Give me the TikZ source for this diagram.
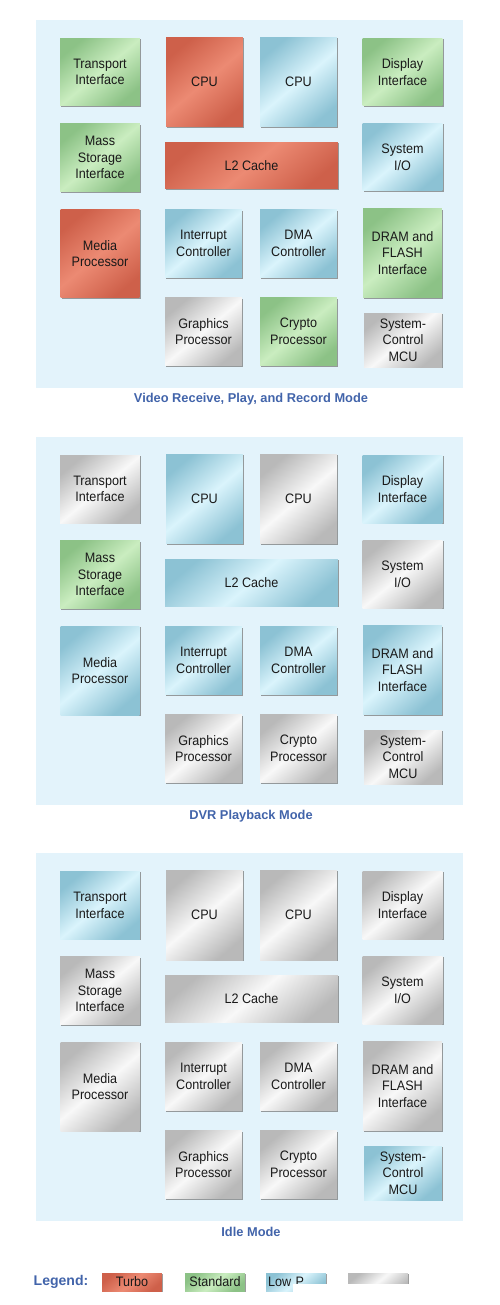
\documentclass[tikz,border=0pt]{standalone}
\usepackage{fontspec}
\setmainfont{Liberation Sans}
\newfontfamily\chipfont{Liberation Sans}[FakeStretch=0.92]
\usetikzlibrary{shadows}

\definecolor{turboD}{RGB}{206,96,74}
\definecolor{turboL}{RGB}{236,138,115}
\definecolor{stdD}{RGB}{140,194,134}
\definecolor{stdL}{RGB}{202,237,192}
\definecolor{lowD}{RGB}{140,194,212}
\definecolor{lowL}{RGB}{218,244,252}
\definecolor{offD}{RGB}{185,185,185}
\definecolor{offL}{RGB}{248,248,248}
\definecolor{panelbg}{RGB}{227,243,251}
\definecolor{titleblue}{RGB}{66,100,170}

% one chip floor plan, colours come from the c-... styles
\newcommand{\drawchip}[1]{%
  \node[blk, sqbox, c-transp]  (#1tr)  at (100,72)    {Transport\\Interface};
  \node[blk, cpubox, c-cpua]   (#1ca)  at (204.5,82)  {CPU};
  \node[blk, cpubox, c-cpub]   (#1cb)  at (298.5,82)  {CPU};
  \node[blk, sqbox, c-disp]    (#1di)  at (402.5,72)  {Display\\Interface};
  \node[blk, sqbox, c-mass]    (#1ms)  at (100,157.5) {Mass\\Storage\\Interface};
  \node[blk, l2box, c-cache]   (#1l2)  at (251.5,165.5) {L2 Cache};
  \node[blk, sqbox, c-sysio]   (#1io)  at (402.5,157) {System\\I/O};
  \node[blk, bigbox, c-media]  (#1mp)  at (100,253.5) {Media\\Processor};
  \node[blk, midbox, c-intc]   (#1ic)  at (203.5,243.5) {Interrupt\\Controller};
  \node[blk, midbox, c-dmac]   (#1dm)  at (298.5,243.5) {DMA\\Controller};
  \node[blk, bigbox, c-dram]   (#1dr)  at (402.5,253) {DRAM and\\FLASH\\Interface};
  \node[blk, midbox, c-gfx]    (#1gp)  at (203.5,331.5) {Graphics\\Processor};
  \node[blk, midbox, c-crypto] (#1cp)  at (298.5,331.5) {Crypto\\Processor};
  \node[blk, mcubox, c-mcu]    (#1mc)  at (403,340)   {System-\\Control\\MCU};
}

\begin{document}
\begin{tikzpicture}[x=0.02cm, y=-0.02cm]

	\tikzset{
		turbo/.style={top color=turboD, bottom color=turboD, middle color=turboL, shading angle=40},
		std/.style={top color=stdD, bottom color=stdD, middle color=stdL, shading angle=40},
		low/.style={top color=lowD, bottom color=lowD, middle color=lowL, shading angle=40},
		off/.style={top color=offD, bottom color=offD, middle color=offL, shading angle=40},
		blk/.style={rectangle, inner sep=0pt, align=center, text=black!90,
			font=\chipfont\fontsize{7.8}{9.5}\selectfont,
			drop shadow={shadow xshift=0.6pt, shadow yshift=-0.6pt, fill=black!55, opacity=0.7}},
		sqbox/.style={minimum width=1.6cm, minimum height=1.36cm},
		cpubox/.style={minimum width=1.54cm, minimum height=1.8cm},
		bigbox/.style={minimum width=1.58cm, minimum height=1.78cm},
		midbox/.style={minimum width=1.54cm, minimum height=1.36cm},
		l2box/.style={minimum width=3.46cm, minimum height=0.94cm},
		mcubox/.style={minimum width=1.56cm, minimum height=1.08cm},
		modetitle/.style={text=titleblue, font=\bfseries\fontsize{7.3}{9}\selectfont},
		leg/.style={blk, minimum width=1.2cm, minimum height=0.36cm}
	}

	\useasboundingbox (0,0) rectangle (500,1305);

	% Video receive, play and record
	\begin{scope}
		\tikzset{c-transp/.style=std, c-cpua/.style=turbo, c-cpub/.style=low, c-disp/.style=std,
			c-mass/.style=std, c-cache/.style=turbo, c-sysio/.style=low, c-media/.style=turbo,
			c-intc/.style=low, c-dmac/.style=low, c-dram/.style=std, c-gfx/.style=off,
			c-crypto/.style=std, c-mcu/.style=off}
		\fill[panelbg] (36,20) rectangle (463,388);
		\drawchip{v}
		\node[modetitle] (vtitle) at (251,399) {Video Receive, Play, and Record Mode};
	\end{scope}

	% DVR playback
	\begin{scope}[yshift=-417*0.02cm]
		\tikzset{c-transp/.style=off, c-cpua/.style=low, c-cpub/.style=off, c-disp/.style=low,
			c-mass/.style=std, c-cache/.style=low, c-sysio/.style=off, c-media/.style=low,
			c-intc/.style=low, c-dmac/.style=low, c-dram/.style=low, c-gfx/.style=off,
			c-crypto/.style=off, c-mcu/.style=off}
		\fill[panelbg] (36,20) rectangle (463,388);
		\drawchip{d}
		\node[modetitle] (dtitle) at (251,399) {DVR Playback Mode};
	\end{scope}

	% Idle
	\begin{scope}[yshift=-833*0.02cm]
		\tikzset{c-transp/.style=low, c-cpua/.style=off, c-cpub/.style=off, c-disp/.style=off,
			c-mass/.style=off, c-cache/.style=off, c-sysio/.style=off, c-media/.style=off,
			c-intc/.style=off, c-dmac/.style=off, c-dram/.style=off, c-gfx/.style=off,
			c-crypto/.style=off, c-mcu/.style=low}
		\fill[panelbg] (36,20) rectangle (463,388);
		\drawchip{i}
		\node[modetitle] (ititle) at (251,399) {Idle Mode};
	\end{scope}

	% Legend
	\node[text=titleblue, font=\bfseries\fontsize{8}{9}\selectfont] (legend) at (61,1282) {Legend:};
	\node[leg, turbo] (lturbo) at (132,1282) {Turbo};
	\node[leg, std] (lstd) at (215,1282) {Standard};
	\node[leg, low, text width=1.12cm, align=left] (llow) at (296,1282) {Low P};
	\node[leg, off] (loff) at (378,1282) {};
	\fill[white] (293,1283.5) rectangle (500,1305);
	\fill[white] (412,1268) rectangle (500,1305);

\end{tikzpicture}
\end{document}
